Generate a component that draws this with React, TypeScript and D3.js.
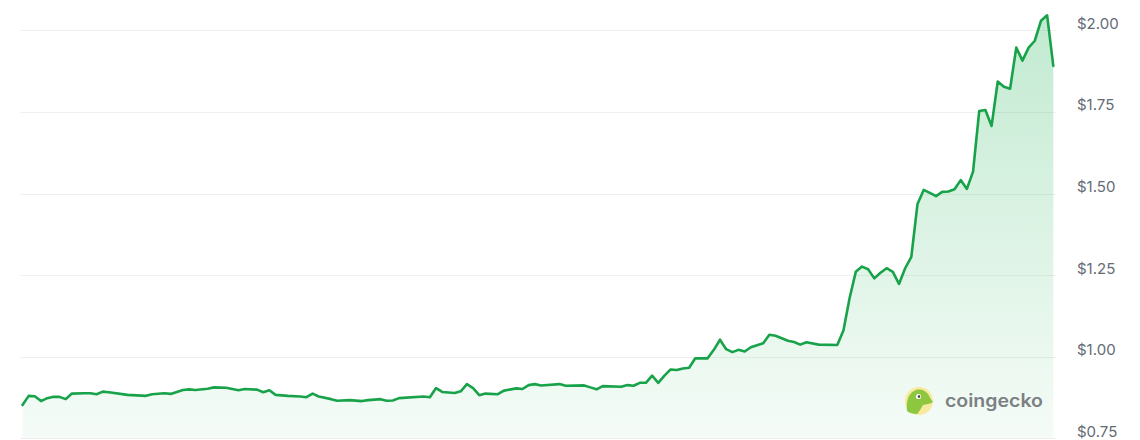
import React from "react";
import * as d3 from "d3";

const days = [0,1,2,3,4,5,6,7,8,10,11,12,13,14,17,20,21,23,24,26,27,28,30,31,33,35,36,38,39,40,41,43,45,46,47,48,50,51,53,55,56,58,59,60,61,65,66,67,68,70,71,72,73,74,75,77,78,80,81,82,83,84,87,88,91,92,93,94,97,98,99,100,101,102,103,104,105,106,107,108,109,111,112,113,114,115,116,117,118,120,121,122,124,125,126,127,129,132,133,134,135,136,137,138,139,140,141,142,143,144,145,146,147,148,149,150,151,152,153,154,155,156,157,158,159,160,161,162,163,164,165,166,167];

const prices = [0.852,0.880,0.879,0.864,0.873,0.877,0.877,0.870,0.887,0.888,0.888,0.885,0.893,0.891,0.883,0.880,0.885,0.888,0.886,0.898,0.900,0.898,0.902,0.906,0.905,0.897,0.901,0.899,0.891,0.897,0.883,0.880,0.878,0.876,0.887,0.878,0.870,0.865,0.867,0.864,0.867,0.870,0.865,0.866,0.873,0.878,0.876,0.904,0.892,0.889,0.894,0.916,0.904,0.882,0.887,0.885,0.896,0.903,0.901,0.913,0.916,0.912,0.916,0.911,0.912,0.906,0.900,0.910,0.908,0.913,0.911,0.920,0.920,0.942,0.920,0.942,0.961,0.959,0.964,0.966,0.995,0.995,1.021,1.052,1.023,1.014,1.021,1.016,1.029,1.041,1.067,1.064,1.049,1.045,1.037,1.044,1.037,1.036,1.080,1.180,1.260,1.276,1.268,1.240,1.257,1.271,1.260,1.223,1.271,1.306,1.468,1.511,1.502,1.492,1.505,1.506,1.513,1.541,1.514,1.567,1.753,1.756,1.707,1.843,1.827,1.821,1.947,1.907,1.947,1.968,2.029,2.046,1.891];

const tickValues = [0.75, 1.0, 1.25, 1.5, 1.75, 2.0];
const tickLabels = ["$0.75", "$1.00", "$1.25", "$1.50", "$1.75", "$2.00"];

const W = 1140;
const H = 440;

export default function App() {
  const data = days.map((d, i) => ({ d, p: prices[i] }));
  const x = d3.scaleLinear().domain([0, 167]).range([22.5, 1053.3]);
  const y = d3.scaleLinear().domain([0.75, 2.0]).range([438.3, 30.3]);

  const line = d3
    .line<{ d: number; p: number }>()
    .x((v) => x(v.d))
    .y((v) => y(v.p));
  const area = d3
    .area<{ d: number; p: number }>()
    .x((v) => x(v.d))
    .y0(y(0.75))
    .y1((v) => y(v.p));

  const topY = y(d3.max(prices) as number);

  return (
    <svg
      width={W}
      height={H}
      style={{ position: "absolute", left: 0, top: 0, background: "#fff" }}
    >
      <defs>
        <linearGradient
          id="fillGrad"
          gradientUnits="userSpaceOnUse"
          x1={0}
          x2={0}
          y1={topY}
          y2={y(0.75)}
        >
          <stop offset="0%" stopColor="#00a83e" stopOpacity={0.24} />
          <stop offset="100%" stopColor="#00a83e" stopOpacity={0.04} />
        </linearGradient>
      </defs>
      {tickValues.map((t) => (
        <line
          key={"g" + t}
          x1={20}
          x2={1056}
          y1={Math.round(y(t)) + 0.5}
          y2={Math.round(y(t)) + 0.5}
          stroke="#f0f0f0"
          strokeWidth={1}
        />
      ))}
      <path d={area(data) || ""} fill="url(#fillGrad)" />
      <path
        d={line(data) || ""}
        fill="none"
        stroke="#18a24a"
        strokeWidth={2.6}
        strokeLinejoin="round"
        strokeLinecap="round"
      />
      {tickValues.map((t, i) => (
        <text
          key={"t" + t}
          x={1077}
          y={y(t) - 1.5}
          fontFamily="Inter, 'Noto Sans', sans-serif"
          fontSize={15}
          fill="#646b75"
        >
          {tickLabels[i]}
        </text>
      ))}
      <g>
        <circle cx={919} cy={401} r={14} fill="#f7ea9f" />
        <path
          d="M907,411 C906,402 908,394 914,391 C919,388 925,390 928,394 C930,397 931,400 933,402 C930,404 926,404 923,405 C921,408 919,412 917,414 C913,414 909,413 907,411 Z"
          fill="#8dc63f"
        />
        <circle cx={918.5} cy={396.5} r={2.6} fill="#ffffff" />
        <circle cx={919} cy={396.5} r={1.3} fill="#3a3a3a" />
        <text
          x={945}
          y={407}
          fontFamily="Inter, 'Noto Sans', sans-serif"
          fontSize={18}
          fontWeight={600}
          fill="#7c7f83"
          textLength={98}
          lengthAdjust="spacingAndGlyphs"
        >
          coingecko
        </text>
      </g>
    </svg>
  );
}
